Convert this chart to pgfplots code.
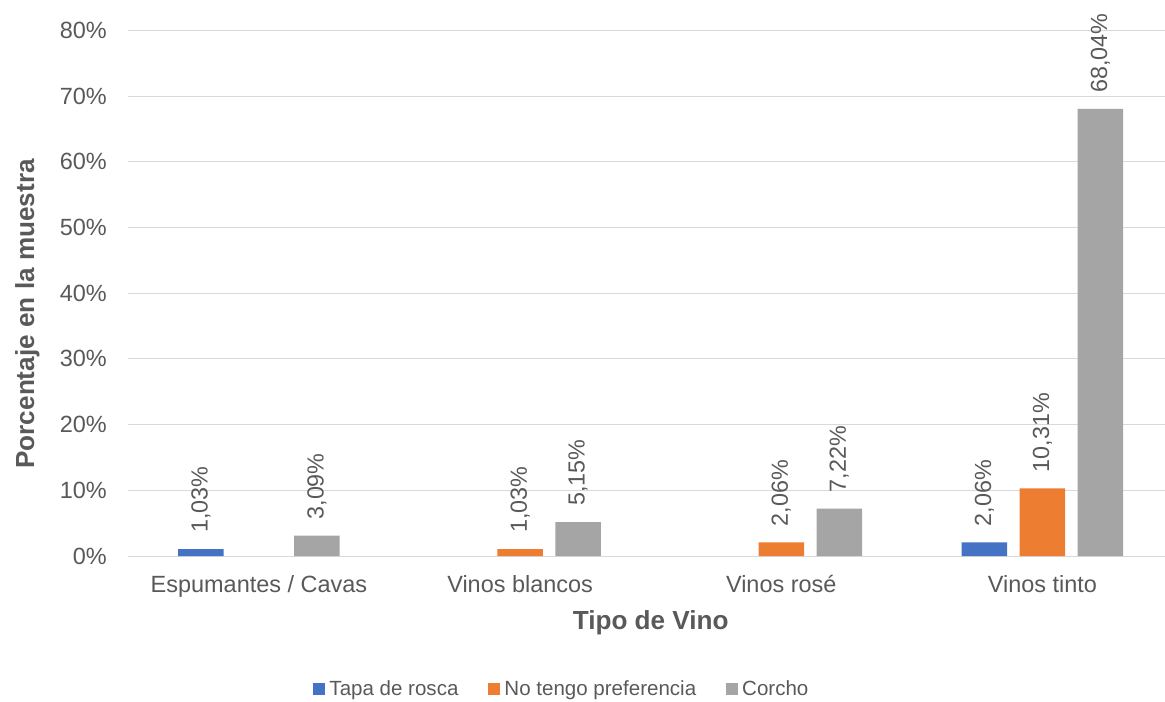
\documentclass[border=0pt]{standalone}
\usepackage{pgfplots}
\pgfplotsset{compat=1.18}
\usepackage{fontspec}
\setmainfont{Liberation Sans}
\definecolor{cblue}{HTML}{4472C4}
\definecolor{corange}{HTML}{ED7D31}
\definecolor{cgray}{HTML}{A5A5A5}
\definecolor{ctext}{HTML}{595959}
\definecolor{cgrid}{HTML}{D9D9D9}
\begin{document}
\begin{tikzpicture}
\useasboundingbox (-96.3pt,-108.75pt) rectangle (777.45pt,417pt);
\begin{axis}[
  at={(0,0)}, anchor=south west, scale only axis,
  width=783.45pt, height=394.2pt,
  xmin=-0.5, xmax=3.5, ymin=0, ymax=80,
  /pgf/number format/assume math mode=true,
  ybar=9.4pt, bar width=34.1pt,
  axis line style={draw=none},
  major tick length=0pt,
  ymajorgrids, grid style={draw=cgrid, line width=0.75pt},
  ytick={0,10,20,30,40,50,60,70,80},
  yticklabels={0\%,10\%,20\%,30\%,40\%,50\%,60\%,70\%,80\%},
  xtick={0,1,2,3},
  xticklabels={Espumantes / Cavas, Vinos blancos, Vinos rosé, Vinos tinto},
  yticklabel style={font=\fontsize{17.6}{20}\selectfont, text=ctext, anchor=east, inner sep=0pt, xshift=-16pt},
  xticklabel style={font=\fontsize{17.6}{20}\selectfont, text=ctext, anchor=north, inner sep=0pt, yshift=-14.5pt},
  xlabel={Tipo de Vino},
  xlabel style={at={(axis description cs:0.5,0)}, anchor=north, inner sep=0pt, yshift=-40.5pt, font=\bfseries\fontsize{19.6}{22}\selectfont, text=ctext},
  ylabel={Porcentaje en la muestra},
  ylabel style={at={(axis description cs:-0.1086,0.4606)}, anchor=north, inner sep=0pt, font=\bfseries\fontsize{19.6}{22}\selectfont, text=ctext},
  nodes near coords={\pgfmathprintnumber[fixed,fixed zerofill,precision=2,use comma]{\pgfplotspointmeta}\%},
  nodes near coords style={rotate=90, anchor=west, inner xsep=12pt, inner ysep=0pt, font=\fontsize{17.5}{20}\selectfont, text=ctext},
  legend columns=-1,
  legend style={draw=none, fill=none, at={(0.4141,-0.253)}, anchor=center,
    font=\fontsize{15.4}{18}\selectfont, text=ctext,
    nodes={inner sep=0pt},
    column sep=3pt,
    /tikz/every even column/.append style={column sep=22.5pt}},
  legend image code/.code={\fill[#1] (0pt,-4.5pt) rectangle (9pt,4.5pt);},
]
\addplot[fill=cblue, draw=none] coordinates {(0,1.03) (3,2.06)};
\addplot[fill=corange, draw=none] coordinates {(1,1.03) (2,2.06) (3,10.31)};
\addplot[fill=cgray, draw=none] coordinates {(0,3.09) (1,5.15) (2,7.22) (3,68.04)};
\legend{Tapa de rosca, No tengo preferencia, Corcho}
\end{axis}
\end{tikzpicture}
\end{document}
